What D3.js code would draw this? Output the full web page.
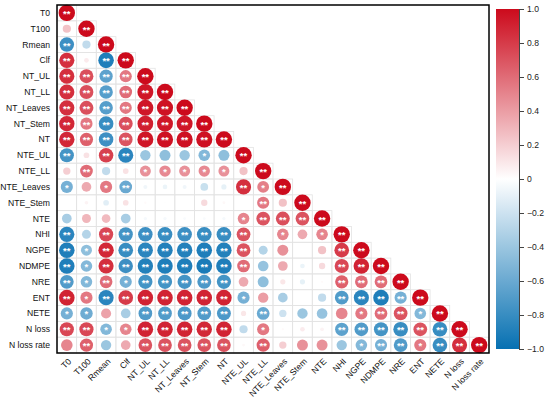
<!DOCTYPE html>
<html>
<head>
<meta charset="utf-8">
<script src="https://d3js.org/d3.v7.min.js"></script>
<style>
  body { margin: 0; background: #fff; }
  text { font-family: "Liberation Sans", Arial, Helvetica, sans-serif; }
</style>
</head>
<body>
<svg id="chart" width="550" height="405"></svg>
<script>
// variable names (rows and columns)
const labels = ["T0","T100","Rmean","Clf","NT_UL","NT_LL","NT_Leaves","NT_Stem","NT",
  "NTE_UL","NTE_LL","NTE_Leaves","NTE_Stem","NTE","NHI","NGPE","NDMPE","NRE","ENT",
  "NETE","N loss","N loss rate"];

// lower triangle of the correlation matrix, row by row (diagonal included)
const corrRows = [
  [1],
  [0.25, 1],
  [-0.78, -0.25, 1],
  [0.85, 0.08, -0.9, 1],
  [0.85, 0.72, -0.65, 0.55, 1],
  [0.85, 0.72, -0.68, 0.6, 0.95, 1],
  [0.85, 0.72, -0.68, 0.55, 0.95, 0.97, 1],
  [0.88, 0.55, -0.8, 0.72, 0.92, 0.95, 0.95, 1],
  [0.88, 0.65, -0.78, 0.7, 0.95, 0.97, 0.97, 0.97, 1],
  [-0.75, 0.12, 0.78, -0.85, -0.4, -0.45, -0.4, -0.5, -0.45, 1],
  [0.2, 0.6, -0.25, 0.12, 0.45, 0.48, 0.45, 0.48, 0.45, 0.25, 1],
  [-0.55, 0.35, 0.55, -0.6, -0.06, -0.08, -0.06, -0.22, -0.1, 0.85, 0.52, 1],
  [0.0, 0.05, -0.12, 0.12, 0.02, 0.01, 0.0, 0.15, 0.03, 0.0, 0.55, 0.25, 1],
  [-0.35, 0.3, 0.28, -0.35, -0.04, -0.04, -0.03, -0.03, -0.04, 0.5, 0.7, 0.72, 0.7, 1],
  [-0.85, -0.3, 0.75, -0.75, -0.78, -0.8, -0.78, -0.8, -0.8, 0.7, 0.0, 0.5, 0.35, 0.5, 1],
  [-0.9, -0.45, 0.88, -0.8, -0.85, -0.88, -0.88, -0.9, -0.88, 0.7, -0.3, 0.45, 0.0, 0.25, 0.8, 1],
  [-0.9, -0.5, 0.85, -0.78, -0.88, -0.9, -0.9, -0.92, -0.9, 0.6, -0.42, 0.35, -0.08, 0.15, 0.75, 0.9, 1],
  [-0.7, -0.5, 0.6, -0.55, -0.75, -0.75, -0.75, -0.72, -0.75, 0.35, -0.45, 0.1, -0.1, 0.02, 0.65, 0.6, 0.6, 1],
  [0.9, 0.55, -0.85, 0.8, 0.9, 0.9, 0.9, 0.9, 0.9, -0.55, 0.4, -0.35, 0.0, -0.25, -0.7, -0.85, -0.9, -0.55, 1],
  [-0.55, -0.58, 0.38, -0.35, -0.7, -0.7, -0.72, -0.7, -0.72, 0.1, -0.6, -0.2, -0.4, -0.42, 0.5, 0.55, 0.6, 0.7, -0.5, 1],
  [0.75, 0.75, -0.5, 0.5, 0.9, 0.9, 0.9, 0.88, 0.9, -0.25, 0.55, 0.02, 0.08, 0.05, -0.65, -0.7, -0.75, -0.8, 0.7, -0.8, 1],
  [0.5, 0.65, -0.4, 0.35, 0.7, 0.7, 0.7, 0.7, 0.7, 0.03, 0.65, 0.2, 0.45, 0.45, -0.4, -0.5, -0.55, -0.7, 0.55, -0.8, 0.85, 1]
];

// significance level per cell: 2 = "**", 1 = "*", 0 = none
const sigRows = [
  [2],
  [0,2],
  [2,0,2],
  [2,0,2,2],
  [2,2,2,2,2],
  [2,2,2,2,2,2],
  [2,2,2,2,2,2,2],
  [2,2,2,2,2,2,2,2],
  [2,2,2,2,2,2,2,2,2],
  [2,0,2,2,0,0,0,1,0,2],
  [0,2,0,0,1,1,1,1,1,0,2],
  [1,0,1,2,0,0,0,0,0,2,1,2],
  [0,0,0,0,0,0,0,0,0,0,2,0,2],
  [0,0,0,0,0,0,0,0,0,1,2,2,2,2],
  [2,0,2,2,2,2,2,2,2,2,0,1,0,1,2],
  [2,1,2,2,2,2,2,2,2,2,0,0,0,0,2,2],
  [2,1,2,2,2,2,2,2,2,2,0,0,0,0,2,2,2],
  [2,1,2,1,2,2,2,2,2,0,0,0,0,0,2,2,2,2],
  [2,1,2,2,2,2,2,2,2,1,0,0,0,0,2,2,2,2,2],
  [1,1,0,0,2,2,2,2,2,0,2,0,0,0,0,1,2,2,1,2],
  [2,2,1,1,2,2,2,2,2,0,1,0,0,0,2,2,2,2,2,2,2],
  [0,2,0,0,2,2,2,2,2,0,2,0,0,0,0,1,2,2,1,2,2,2]
];

const legendTicks = [1, 0.8, 0.6, 0.4, 0.2, 0, -0.2, -0.4, -0.6, -0.8, -1];

const svg = d3.select("#chart");
const plotL = 57, plotT = 5, plotR = 489, plotB = 353;

const x = d3.scaleBand().domain(labels).range([plotL, plotR]);
const y = d3.scaleBand().domain(labels).range([plotT, plotB]);
const color = d3.scaleLinear().domain([-1, 0, 1])
  .range(["#0670b2", "#ffffff", "#cc0a1c"]).interpolate(d3.interpolateRgb);
const rMax = 8.2;
const rScale = d3.scaleSqrt().domain([0, 1]).range([0, rMax]);

// flatten the triangle into cells
const cells = [];
corrRows.forEach((row, i) => {
  row.forEach((v, j) => {
    cells.push({ row: labels[i], col: labels[j], v: v, sig: sigRows[i][j] });
  });
});

// grid of the lower triangle
svg.append("g").selectAll("rect")
  .data(cells).enter().append("rect")
  .attr("x", d => x(d.col))
  .attr("y", d => y(d.row))
  .attr("width", x.bandwidth())
  .attr("height", y.bandwidth())
  .attr("fill", "none")
  .attr("stroke", "#e3e3e3")
  .attr("stroke-width", 0.8);

// circles
svg.append("g").selectAll("circle")
  .data(cells).enter().append("circle")
  .attr("cx", d => x(d.col) + x.bandwidth() / 2)
  .attr("cy", d => y(d.row) + y.bandwidth() / 2)
  .attr("r", d => rScale(Math.abs(d.v)))
  .attr("fill", d => color(d.v));

// significance stars
svg.append("g").selectAll("text")
  .data(cells.filter(d => d.sig > 0)).enter().append("text")
  .attr("x", d => x(d.col) + x.bandwidth() / 2)
  .attr("y", d => y(d.row) + y.bandwidth() / 2 + 4)
  .attr("text-anchor", "middle")
  .attr("fill", "#fff")
  .style("font-size", "9.5px")
  .style("font-weight", "bold")
  .text(d => d.sig === 2 ? "**" : "*");

// outer box
svg.append("rect")
  .attr("x", plotL).attr("y", plotT)
  .attr("width", plotR - plotL).attr("height", plotB - plotT)
  .attr("fill", "none").attr("stroke", "#000").attr("stroke-width", 1.5);

// row labels
svg.append("g").selectAll("text")
  .data(labels).enter().append("text")
  .attr("x", plotL - 7)
  .attr("y", d => y(d) + y.bandwidth() / 2 + 3)
  .attr("text-anchor", "end")
  .attr("fill", "#111")
  .style("font-size", "8.6px")
  .text(d => d);

// column labels, rotated
svg.append("g").selectAll("text")
  .data(labels).enter().append("text")
  .attr("text-anchor", "end")
  .attr("fill", "#111")
  .attr("transform", d => "translate(" + (x(d) + x.bandwidth() / 2 + 5) + "," + 362 + ")rotate(-45)")
  .style("font-size", "8.6px")
  .text(d => d);

// colour bar
const barX = 496, barW = 23, barTop = 9, barBottom = 349;
const defs = svg.append("defs");
const grad = defs.append("linearGradient").attr("id", "cbar")
  .attr("x1", 0).attr("y1", 1).attr("x2", 0).attr("y2", 0);
d3.range(0, 1.0001, 0.1).forEach(t => {
  grad.append("stop").attr("offset", t).attr("stop-color", color(-1 + 2 * t));
});
svg.append("rect")
  .attr("x", barX).attr("y", barTop)
  .attr("width", barW).attr("height", barBottom - barTop)
  .attr("fill", "url(#cbar)");

const yBar = d3.scaleLinear().domain([-1, 1]).range([barBottom, barTop]);
const fmt = d => d === 0 ? "0" : d3.format(".1f")(d).replace("-", "\u2212");
const axis = svg.append("g")
  .attr("transform", "translate(" + (barX + barW) + ",0)")
  .call(d3.axisRight(yBar).tickValues(legendTicks).tickFormat(fmt).tickSize(5).tickPadding(3));
axis.select(".domain").attr("stroke", "#444");
axis.selectAll(".tick line").attr("stroke", "#444");
axis.selectAll("text").style("font-size", "8.6px")
  .style("font-family", "'Liberation Sans', Arial, sans-serif").attr("fill", "#222");
</script>
</body>
</html>
